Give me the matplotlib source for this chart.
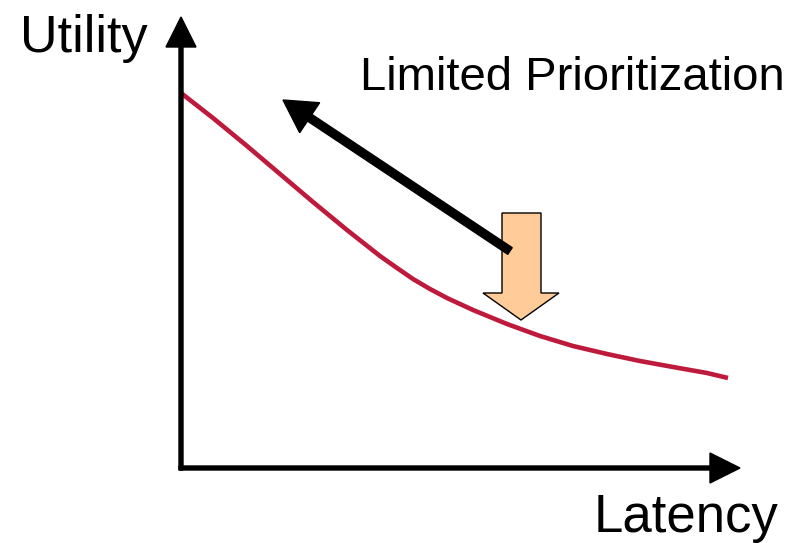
import matplotlib
matplotlib.use("Agg")
import matplotlib.pyplot as plt
from matplotlib.patches import Polygon, FancyArrow

plt.rcParams['font.family'] = ['Liberation Sans', 'DejaVu Sans']

# utility curve (pixel coordinates)
curve_x = [181, 213, 247, 280, 313, 347, 380, 397, 413, 430, 447, 460, 473, 490, 507, 540, 573, 607, 640, 673, 707, 728]
curve_y = [93, 118, 146, 174, 202, 230, 256, 268, 279, 289, 298, 304, 310, 317, 324, 336, 346, 354, 361, 367, 373, 378]

axis_label_x = "Latency"
axis_label_y = "Utility"
note_text = "Limited Prioritization"

fig = plt.figure(figsize=(8.08, 5.43), dpi=100)
ax = fig.add_axes([0, 0, 1, 1])
ax.set_xlim(0, 808)
ax.set_ylim(543, 0)
ax.axis('off')

# axes with arrowheads
ax.add_patch(FancyArrow(181, 470, 0, -453, width=4, head_width=30, head_length=30,
                        length_includes_head=True, color='black', zorder=3))
ax.add_patch(FancyArrow(179, 468, 561, 0, width=4, head_width=30, head_length=30,
                        length_includes_head=True, color='black', zorder=3))

ax.plot(curve_x, curve_y, color='#BE1A3C', lw=3.3, solid_capstyle='butt',
        solid_joinstyle='round', zorder=2)

# block arrow pointing down
block = [(502, 213), (541, 213), (541, 293), (559, 293), (521, 320),
         (483, 293), (502, 293)]
ax.add_patch(Polygon(block, closed=True, facecolor='#FFCC99', edgecolor='black',
                     lw=1, zorder=4))

# black arrow toward upper left
ax.add_patch(FancyArrow(510, 251, -227, -151, width=8, head_width=36, head_length=32,
                        length_includes_head=True, color='black', zorder=5))

ax.text(20, 52, axis_label_y, fontsize=37.5, ha='left', va='baseline')
ax.text(778, 532, axis_label_x, fontsize=38, ha='right', va='baseline')
ax.text(360, 90, note_text, fontsize=34, ha='left', va='baseline')

fig.savefig("out.png", dpi=100)
